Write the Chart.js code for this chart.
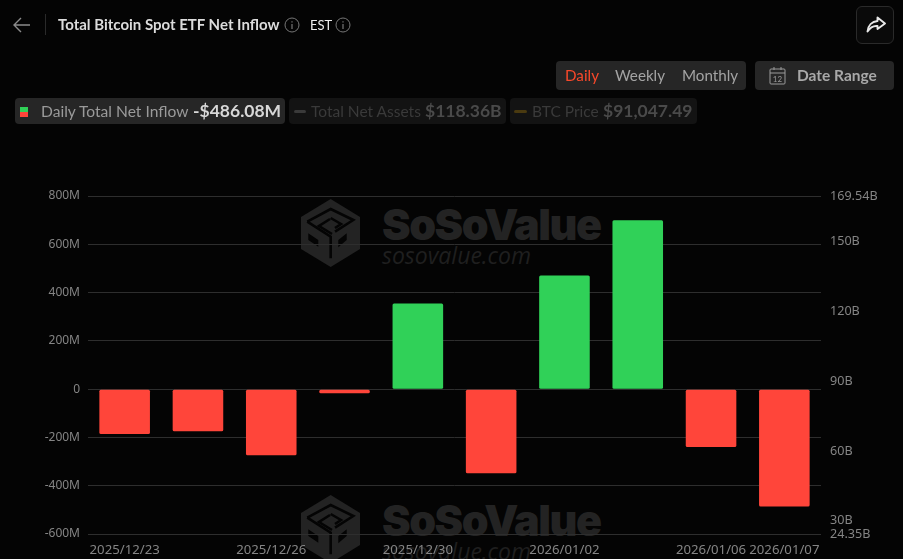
<!DOCTYPE html>
<html>
<head>
<meta charset="utf-8">
<script src="https://cdn.jsdelivr.net/npm/chart.js@4"></script>
<style>
html, body { margin: 0; padding: 0; background: #040404; }
#page { position: relative; width: 903px; height: 559px; overflow: hidden; background: #040404; font-family: Lato, sans-serif; }
#page div, #page span { position: absolute; white-space: nowrap; }
#page svg { position: absolute; }
canvas { position: absolute; left: 0; top: 0; }
.box { background: #262626; border-radius: 4px; }
.dim { background: #131313; border-radius: 4px; }
.wmMain { font-family: Inter, sans-serif; font-weight: 900; font-size: 43px; letter-spacing: -1.45px; color: #232323; }
.wmSub { font-family: "Open Sans", sans-serif; font-style: italic; font-size: 23px; color: #1f1f1f; }
</style>
</head>
<body>
<div id="page">
  <!-- watermark sits behind the chart -->
  <svg width="0" height="0" style="left:0;top:0">
    <symbol id="logo" viewBox="0 0 64 72">
      <path d="M31.7 1 L61 19 L61 51 L31.7 69 L2 51 L2 19 Z" fill="#232323"/>
      <g fill="none" stroke="#040404" stroke-width="2.6">
        <path d="M8.3 23.7 L31.7 11 L54.3 22 L36 33.7"/>
        <path d="M8.3 23.7 L31.7 38.7 V60.3"/>
        <path d="M31.7 20 L42 26 L36 30 M31 21 L20 28 L33 36"/>
      </g>
      <path d="M9.3 35.3 L19.3 42 V48.7 L9.3 42 Z M39.3 42 L47.7 35.3 V42 L39.3 49.3 Z" fill="#040404"/>
    </symbol>
  </svg>
  <div style="left:0;top:0;width:903px;height:559px">
    <svg style="left:299px;top:198px" width="64" height="72"><use href="#logo"/></svg>
    <div class="wmMain" style="left:382px;top:198px">SoSoValue</div>
    <div class="wmSub" style="left:382px;top:239px">sosovalue.com</div>
  </div>
  <div style="left:0;top:296px;width:903px;height:263px;overflow:hidden">
    <svg style="left:299px;top:198px" width="64" height="72"><use href="#logo"/></svg>
    <div class="wmMain" style="left:382px;top:198px">SoSoValue</div>
    <div class="wmSub" style="left:382px;top:239px">sosovalue.com</div>
  </div>

  <canvas id="flowChart" width="903" height="559"></canvas>

  <!-- header -->
  <svg style="left:12px;top:15px" width="20" height="20" viewBox="0 0 20 20"><path d="M18 10 H2 M9 3 L2 10 L9 17" fill="none" stroke="#8a8a8a" stroke-width="1.4"/></svg>
  <div style="left:45px;top:14px;width:1px;height:21px;background:#2a2a2a"></div>
  <div style="left:58px;top:15px;font-size:15px;font-weight:700;color:#dcdcdc">Total Bitcoin Spot ETF Net Inflow</div>
  <svg style="left:284px;top:17px" width="16" height="16" viewBox="0 0 16 16"><circle cx="8" cy="8" r="7" fill="none" stroke="#777" stroke-width="1"/><path d="M8 7 V12 M8 4.2 V5.6" stroke="#777" stroke-width="1.2"/></svg>
  <div style="left:310px;top:17px;font-size:13px;color:#eee">EST</div>
  <svg style="left:335px;top:17px" width="16" height="16" viewBox="0 0 16 16"><circle cx="8" cy="8" r="7" fill="none" stroke="#777" stroke-width="1"/><path d="M8 7 V12 M8 4.2 V5.6" stroke="#777" stroke-width="1.2"/></svg>
  <div style="left:856px;top:6px;width:36px;height:36px;border:1px solid #2a2a2a;border-radius:6px;background:#0a0a0a"></div>
  <svg style="left:866px;top:15px" width="20" height="20" viewBox="0 0 20 20"><path d="M11.5 2.5 L19 8.5 L11.5 14 V11 C7 10.5 4 12.5 1.5 16.5 C2 10.5 6 6.5 11.5 6 Z" fill="none" stroke="#e8e8e8" stroke-width="1.9" stroke-linejoin="round"/></svg>

  <!-- period switch -->
  <div class="box" style="left:556px;top:61px;width:190px;height:29px"></div>
  <div style="left:565px;top:66px;font-size:15.2px;color:#f8482a">Daily</div>
  <div style="left:615px;top:66px;font-size:15.2px;color:#a3a3a3">Weekly</div>
  <div style="left:682px;top:66px;font-size:15.2px;color:#a3a3a3">Monthly</div>
  <div class="box" style="left:755px;top:61px;width:139px;height:29px"></div>
  <svg style="left:769px;top:66px" width="17" height="19" viewBox="0 0 17 19"><rect x="1" y="3" width="15" height="15" rx="1" fill="none" stroke="#9a9a9a"/><path d="M1 7 H16 M5 1 V4 M12 1 V4" stroke="#9a9a9a"/><text x="8.5" y="16" font-size="8" fill="#9a9a9a" text-anchor="middle" font-family="Lato">12</text></svg>
  <div style="left:797px;top:66px;font-size:15.5px;font-weight:700;color:#a8a8a8">Date Range</div>

  <!-- series switches -->
  <div class="box" style="left:15px;top:98px;width:270px;height:26px"></div>
  <div style="left:20px;top:107px;width:8px;height:5px;background:#30d158"></div>
  <div style="left:20px;top:112px;width:8px;height:5px;background:#ff453a"></div>
  <div style="left:41px;top:102px;font-size:15.6px;color:#9a9a9a">Daily Total Net Inflow</div>
  <div style="left:193px;top:100px;font-size:17.5px;font-weight:700;color:#d8d8d8">-$486.08M</div>
  <div class="dim" style="left:289px;top:98px;width:217px;height:26px"></div>
  <div style="left:294px;top:110px;width:12px;height:3px;background:#3a3a3a;border-radius:2px"></div>
  <div style="left:311px;top:102px;font-size:15.5px;color:#3a3a3a">Total Net Assets</div>
  <div style="left:425px;top:100px;font-size:17.5px;font-weight:700;color:#4a4a4a">$118.36B</div>
  <div class="dim" style="left:510px;top:98px;width:187px;height:26px"></div>
  <div style="left:514px;top:110px;width:13px;height:3px;background:#4a3a10;border-radius:2px"></div>
  <div style="left:532px;top:102px;font-size:15.5px;color:#3a3a3a">BTC Price</div>
  <div style="left:603px;top:100px;font-size:17.5px;font-weight:700;color:#4a4a4a">$91,047.49</div>
</div>

<script>
const categories = ["2025/12/23", "2025/12/24", "2025/12/26", "2025/12/29", "2025/12/30", "2025/12/31", "2026/01/02", "2026/01/05", "2026/01/06", "2026/01/07"];
const netInflow = [-186, -174, -274, -17, 355, -348, 471, 700, -240, -486.08];
const shownDates = ["2025/12/23", "2025/12/26", "2025/12/30", "2026/01/02", "2026/01/06", "2026/01/07"];
const flowTicks = [800, 600, 400, 200, 0, -200, -400, -600];
const assetTicks = [169.54, 150, 120, 90, 60, 30, 24.35];
const assetTickLabels = ["169.54B", "150B", "120B", "90B", "60B", "30B", "24.35B"];

const GREEN = "#30d158";
const RED = "#ff453a";
const TICK_COLOR = "#858585";
const FONT_FAMILY = "'Noto Sans', sans-serif";

function fixedTicks(values) {
    return (axis) => {
        axis.ticks = values.map((value) => ({ value }));
    };
}

new Chart(document.getElementById("flowChart"), {
    type: "bar",
    data: {
        labels: categories,
        datasets: [{
            label: "Daily Total Net Inflow",
            data: netInflow,
            yAxisID: "y",
            backgroundColor: (ctx) => (ctx.raw >= 0 ? GREEN : RED),
            borderRadius: 1.5,
            borderSkipped: false,
            barPercentage: 0.69,
            categoryPercentage: 1,
        }],
    },
    options: {
        responsive: false,
        animation: false,
        layout: { padding: { top: 196, left: 0, right: 0, bottom: 0 } },
        plugins: { legend: { display: false }, tooltip: { enabled: false } },
        scales: {
            x: {
                grid: { display: false },
                border: { display: false },
                afterFit: (axis) => { axis.height = 25; },
                ticks: {
                    autoSkip: false,
                    maxRotation: 0,
                    padding: 0,
                    color: TICK_COLOR,
                    font: { family: FONT_FAMILY, size: 13.2 },
                    callback: function (value) {
                        const label = this.getLabelForValue(value);
                        return shownDates.includes(label) ? label : "";
                    },
                },
            },
            y: {
                position: "left",
                min: -600,
                max: 800,
                afterBuildTicks: fixedTicks(flowTicks),
                afterFit: (axis) => { axis.width = 88; },
                grid: { color: "#2e2e2e", lineWidth: 1, drawTicks: false },
                border: { display: false },
                ticks: {
                    padding: 8,
                    color: TICK_COLOR,
                    font: { family: FONT_FAMILY, size: 12 },
                    callback: (value) => (value === 0 ? "0" : `${value}M`),
                },
            },
            y1: {
                position: "right",
                min: 24.35,
                max: 169.54,
                afterBuildTicks: fixedTicks(assetTicks),
                afterFit: (axis) => { axis.width = 82; },
                grid: { display: false, drawTicks: false },
                border: { display: false },
                ticks: {
                    padding: 9,
                    color: TICK_COLOR,
                    font: { family: FONT_FAMILY, size: 12.6 },
                    callback: (value) => assetTickLabels[assetTicks.indexOf(value)],
                },
            },
        },
    },
});
</script>
</body>
</html>
